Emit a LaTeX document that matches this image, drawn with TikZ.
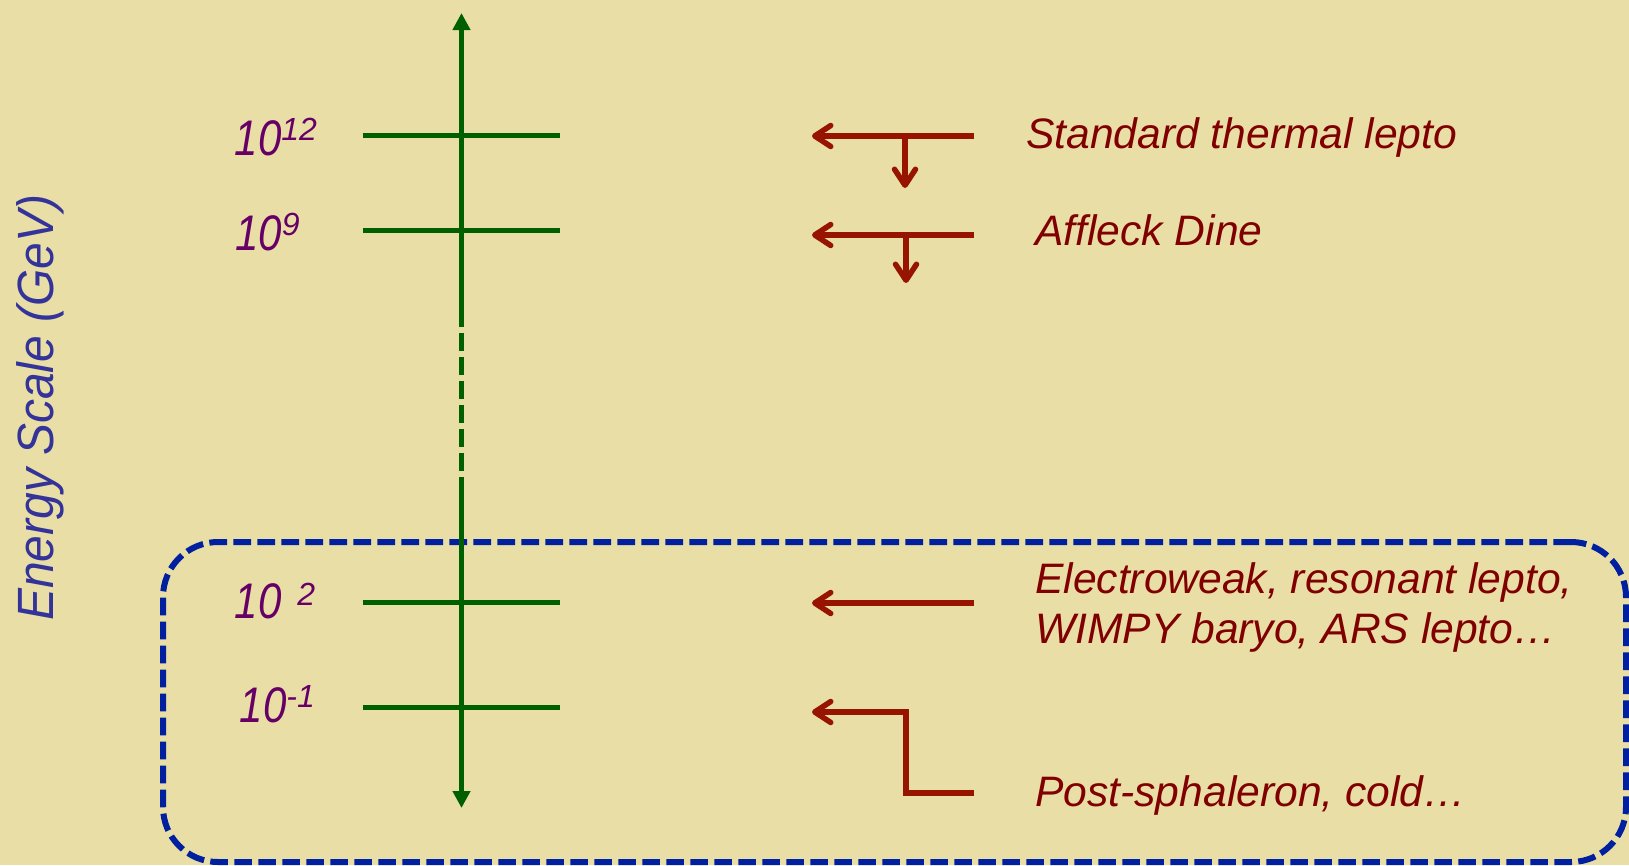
\documentclass[tikz,border=0pt]{standalone}
\usepackage{fontspec}
\setmainfont{Liberation Sans}
\newfontfamily\numfont{Liberation Sans}[FakeStretch=0.84]
\newfontfamily\axisfont{Liberation Sans}[FakeStretch=0.94]
\usetikzlibrary{arrows.meta}
\definecolor{paper}{HTML}{E9DEA6}
\definecolor{scalegreen}{HTML}{006000}
\definecolor{pointred}{HTML}{961400}
\definecolor{labelred}{HTML}{800000}
\definecolor{exppurple}{HTML}{660066}
\definecolor{boxblue}{HTML}{0020A0}
\definecolor{titleblue}{HTML}{333399}
\newcommand{\mainsz}{\numfont\itshape\fontsize{50}{60}\selectfont}
\newcommand{\expsz}{\normalfont\itshape\fontsize{32}{36}\selectfont}
\newcommand{\pow}[2]{{\mainsz #1}\raisebox{15pt}{\expsz #2}}
\tikzset{
  axisline/.style={draw=scalegreen, line width=5.5pt},
  tickline/.style={draw=scalegreen, line width=5pt},
  axistip/.style={-{Triangle[length=17pt,width=17pt]}},
  pointer/.style={draw=pointred, line width=5.5pt, line cap=butt,
    -{Straight Barb[length=16pt,width=21pt,round]}},
  explabel/.style={inner sep=0pt, anchor=base west, text=exppurple},
  schemelabel/.style={inner sep=0pt, anchor=base west, text=labelred,
    font=\fontsize{42.6}{50}\selectfont\itshape},
  regionbox/.style={draw=boxblue, line width=6pt, rounded corners=55pt,
    dash pattern=on 17.7pt off 6.3pt, inner sep=0pt}
}
\begin{document}
\begin{tikzpicture}[x=1pt,y=-1pt]
\useasboundingbox (0,0) rectangle (1629,865);
\fill[paper] (0,0) rectangle (1629,865);

% low-energy window
\node[regionbox, minimum width=1463pt, minimum height=320pt] (lowwin) at (894.5,702) {};

% vertical energy axis, broken in the middle
\coordinate (axtop) at (461.5,13);
\coordinate (axcut) at (461.5,327);
\coordinate (gapa) at (461.5,333);
\coordinate (gapb) at (461.5,495);
\coordinate (axbot) at (461.5,808);
\draw[axisline, axistip] (axcut) -- (axtop);
\draw[axisline, dash pattern=on 17.7pt off 6.3pt] (gapa) -- (gapb);
\draw[axisline, axistip] (gapb) -- (axbot);

% scale ticks
\foreach \nm/\yy in {t12/135.7, t9/230, t2/602.7, tm1/707.7}{
  \coordinate (\nm l) at (362.7,\yy);
  \coordinate (\nm r) at (560,\yy);
  \draw[tickline] (\nm l) -- (\nm r);
}

% tick labels
\node[explabel] (e12) at (234.5,155) {\pow{10}{12}};
\node[explabel] (e9) at (235,250) {\pow{10}{9}};
\node[explabel] (e2) at (234.5,618) {{\mainsz 10}\raisebox{13pt}{\expsz\ \kern7pt 2}};
\node[explabel] (em1) at (239.5,722) {\pow{10}{-1}};

% axis title
\node[inner sep=0pt, anchor=base west, rotate=90, text=titleblue,
      font=\axisfont\itshape\fontsize{51}{60}\selectfont] (title) at (53,621) {Energy Scale (GeV)};

% mechanisms
\node[schemelabel] (std) at (1026,148) {Standard thermal lepto};
\node[schemelabel] (ad) at (1035,245) {Affleck Dine};
\node[schemelabel] (ew1) at (1035,593) {Electroweak, resonant lepto,};
\node[schemelabel] (ew2) at (1035,643) {WIMPY baryo, ARS lepto…};
\node[schemelabel] (ps) at (1035,806) {Post-sphaleron, cold…};

% pointers to the scale
\coordinate (p1s) at (974,136);
\coordinate (p1e) at (812,136);
\coordinate (p1b) at (905,136);
\coordinate (p1d) at (905,188);
\draw[pointer] (p1s) -- (p1e);
\draw[pointer] (p1b) -- (p1d);

\coordinate (p2s) at (974,235);
\coordinate (p2e) at (812,235);
\coordinate (p2b) at (906,235);
\coordinate (p2d) at (906,283);
\draw[pointer] (p2s) -- (p2e);
\draw[pointer] (p2b) -- (p2d);

\coordinate (p3s) at (974,603);
\coordinate (p3e) at (812,603);
\draw[pointer] (p3s) -- (p3e);

\coordinate (p4s) at (974,793);
\coordinate (p4k) at (906,793);
\coordinate (p4j) at (906,712);
\coordinate (p4e) at (812,712);
\draw[pointer] (p4s) -- (p4k) -- (p4j) -- (p4e);
\end{tikzpicture}
\end{document}
